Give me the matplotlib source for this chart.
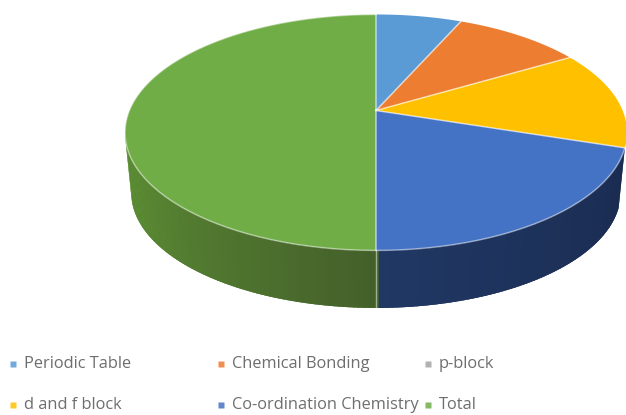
import numpy as np
import matplotlib
matplotlib.use("Agg")
import matplotlib.pyplot as plt
from matplotlib.colors import to_rgb
from matplotlib.patches import Polygon

# data
labels = ["Periodic Table", "Chemical Bonding", "p-block",
          "d and f block", "Co-ordination Chemistry", "Total"]
values = [6.6, 9.9, 0, 13.5, 20, 50]
colors = ["#5b9bd5", "#ed7d31", "#a5a5a5", "#ffc000", "#4472c4", "#70ad47"]

# pie geometry in pixels, k is the perspective of the tilted disc
cx, cy = 376, 110.5
rx, ry, k = 246.6, 113.9, 0.186
bottom_scale, bottom_cy = 0.975, 171.5


def top_xy(t):
    w = 1 + k * np.cos(t)
    return cx + rx * np.sin(t) / w, cy - ry * np.cos(t) / w


def bottom_xy(t):
    w = 1 + k * np.cos(t)
    return (cx + bottom_scale * rx * np.sin(t) / w,
            bottom_cy - bottom_scale * ry * np.cos(t) / w)


def shade(a, b, f):
    a, b = np.array(to_rgb(a)), np.array(to_rgb(b))
    return a + (b - a) * f


fig = plt.figure(figsize=(6.26, 4.15), dpi=100)
ax = fig.add_axes([0, 0, 1, 1])
ax.set_xlim(0, 626)
ax.set_ylim(415, 0)
ax.axis("off")

# slice angles clockwise from the top
edges = np.cumsum([0] + values) / sum(values) * 2 * np.pi

# side wall of the two front slices, in thin strips for the gradient
wall_start = edges[4]
wall_mid = edges[5]
wall_end = np.radians(259.5)

# whole wall in one colour per slice first, so the strips leave no seams
for a, b, c in [(wall_start, wall_mid, "#1c2e55"), (wall_mid, wall_end, "#507a2e")]:
    t = np.linspace(a, b, 100)
    x0, y0 = top_xy(t)
    x1, y1 = bottom_xy(t[::-1])
    ax.add_patch(Polygon(np.column_stack([np.r_[x0, x1], np.r_[y0, y1]]), fc=c, ec="none"))

ts = np.linspace(wall_start, wall_end, 160)
for t0, t1 in zip(ts[:-1], ts[1:]):
    if t1 <= wall_mid + 1e-6:
        f = (t0 - wall_start) / (wall_mid - wall_start)
        c = shade("#1a2b50", "#203864", f)
    else:
        f = (t0 - wall_mid) / (wall_end - wall_mid)
        c = shade("#44602a", "#609636", f)
    x0, y0 = top_xy(t0)
    x1, y1 = top_xy(t1 + 0.004)
    x2, y2 = bottom_xy(t1 + 0.004)
    x3, y3 = bottom_xy(t0)
    ax.add_patch(Polygon([(x0, y0), (x1, y1), (x2, y2), (x3, y3)],
                         fc=c, ec="none"))

# top of the pie
for i in range(len(values)):
    if values[i] == 0:
        continue
    t = np.linspace(edges[i], edges[i + 1], 120)
    x, y = top_xy(t)
    pts = np.column_stack([np.r_[cx, x], np.r_[cy, y]])
    ax.add_patch(Polygon(pts, fc=colors[i], ec="none"))

# separators and the light rim
for i in range(len(values)):
    if values[i] == 0:
        continue
    x, y = top_xy(edges[i])
    ax.plot([cx, x], [cy, y], color="white", lw=1.1, alpha=0.6)
t = np.linspace(edges[4], edges[6], 200)
x, y = top_xy(t)
ax.plot(x, y, color="white", lw=1.1, alpha=0.45)
x0, y0 = top_xy(np.pi)
x1, y1 = bottom_xy(np.pi)
ax.plot([x0, x1], [y0, y1], color="white", lw=1.0, alpha=0.5)

# legend, three columns and two rows
col_x = [13, 221, 428]
row_y = [364, 405]
for i in range(len(labels)):
    x = col_x[i % 3]
    y = row_y[i // 3]
    ax.plot([x], [y], marker="s", ms=4.6, color=colors[i], mec="none", alpha=0.85)
    ax.text(x + 10.5, y, labels[i], fontsize=11.8, family="Open Sans", color="#6e6e6e",
            va="center", ha="left")

fig.savefig("out.png", dpi=100)
